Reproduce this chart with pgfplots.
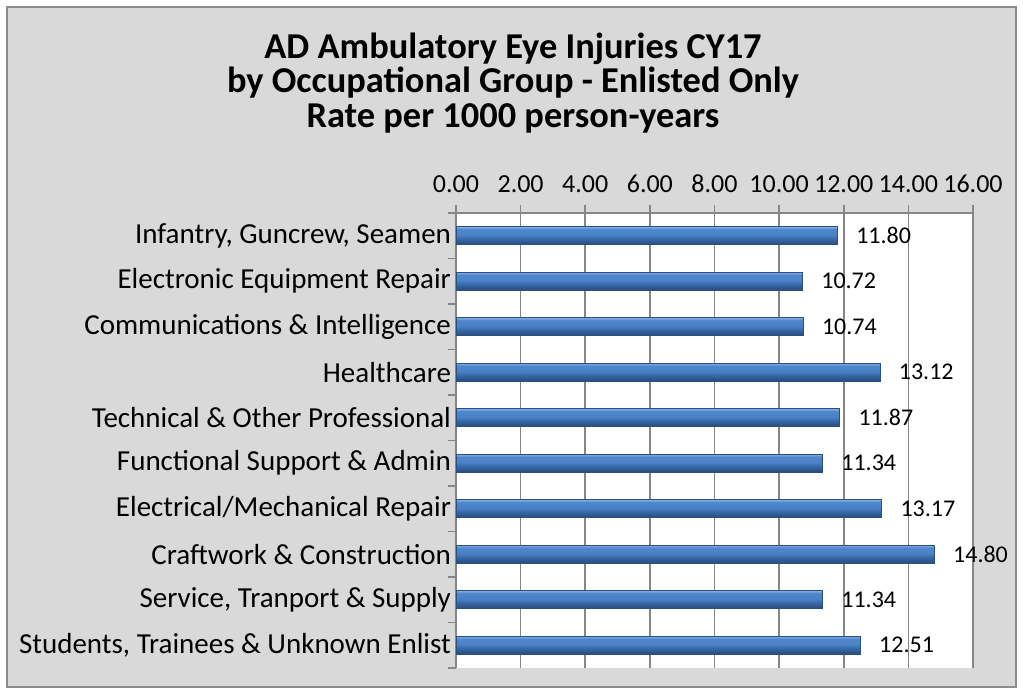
\documentclass[border=0pt]{standalone}
\usepackage{pgfplots}
\pgfplotsset{compat=1.18}
\usepackage{fontspec}
\setmainfont{Carlito}
\definecolor{bg}{HTML}{D9D9D9}
\definecolor{framegray}{HTML}{8C8C8C}
\definecolor{gridgray}{HTML}{868686}
\definecolor{bA}{HTML}{1E3552}
\definecolor{bB}{HTML}{2B4F80}
\definecolor{bC}{HTML}{3566A3}
\definecolor{bD}{HTML}{4A80C6}
\definecolor{bE}{HTML}{4F86CC}
\definecolor{bF}{HTML}{6E9EDB}
\definecolor{bG}{HTML}{86AFE2}
\pgfdeclareverticalshading{barshade}{100bp}{color(0bp)=(bA); color(25bp)=(bA); color(28bp)=(bB); color(40bp)=(bC); color(52bp)=(bD); color(68bp)=(bE); color(72bp)=(bF); color(75bp)=(bG); color(100bp)=(bG)}
\begin{document}
\begin{tikzpicture}[x=1pt,y=1pt]
\path[fill=white] (0,0) rectangle (511.5,347);
\draw[fill=bg, draw=framegray, line width=1pt] (3.5,3.5) rectangle (508,343.5);
\node[font=\bfseries\fontsize{18.2}{17.25}\selectfont, align=center] at (256.5,305.5)
  {AD Ambulatory Eye Injuries CY17\\by Occupational Group - Enlisted Only\\Rate per 1000 person-years};
\begin{axis}[
  at={(228pt,13pt)}, anchor=south west, scale only axis,
  width=258.5pt, height=227.5pt,
  xmin=0, xmax=16, ymin=-0.5, ymax=9.5, y dir=reverse,
  xbar, bar width=9pt, bar shift=0pt,
  axis background/.style={fill=white},
  axis x line=top, axis y line=left,
  axis line style={-, draw=gridgray, line width=0.8pt},
  tick align=outside, major tick length=4pt,
  tick style={draw=gridgray, line width=0.8pt},
  xtick={0,2,...,16}, xmajorgrids,
  grid style={gridgray, line width=0.8pt},
  ytick={-0.5,0.5,...,9.5}, yticklabels={},
  extra y ticks={0,1,...,9},
  extra y tick labels={{Infantry, Guncrew, Seamen},{Electronic Equipment Repair},{Communications \& Intelligence},{Healthcare},{Technical \& Other Professional},{Functional Support \& Admin},{Electrical/Mechanical Repair},{Craftwork \& Construction},{Service, Tranport \& Supply},{Students, Trainees \& Unknown Enlist}},
  extra y tick style={major tick length=0pt, grid=none},
  yticklabel style={font=\fontsize{14.5}{16}\selectfont, xshift=1pt},
  xticklabel style={font=\fontsize{13}{15}\selectfont, yshift=2.5pt, /pgf/number format/.cd, fixed, fixed zerofill, precision=2, assume math mode=true},
  point meta=x,
  nodes near coords={\pgfmathprintnumber[fixed,fixed zerofill,precision=2,assume math mode=true]{\pgfplotspointmeta}},
  nodes near coords style={font=\fontsize{12}{14}\selectfont, black, xshift=6pt},
  clip=false,
  barst/.style={xbar, draw=bB, line width=0.3pt, shading=barshade},
]
\addplot[barst] coordinates {(11.80,0)};
\addplot[barst] coordinates {(10.72,1)};
\addplot[barst] coordinates {(10.74,2)};
\addplot[barst] coordinates {(13.12,3)};
\addplot[barst] coordinates {(11.87,4)};
\addplot[barst] coordinates {(11.34,5)};
\addplot[barst] coordinates {(13.17,6)};
\addplot[barst] coordinates {(14.80,7)};
\addplot[barst] coordinates {(11.34,8)};
\addplot[barst] coordinates {(12.51,9)};
\end{axis}
\end{tikzpicture}
\end{document}
